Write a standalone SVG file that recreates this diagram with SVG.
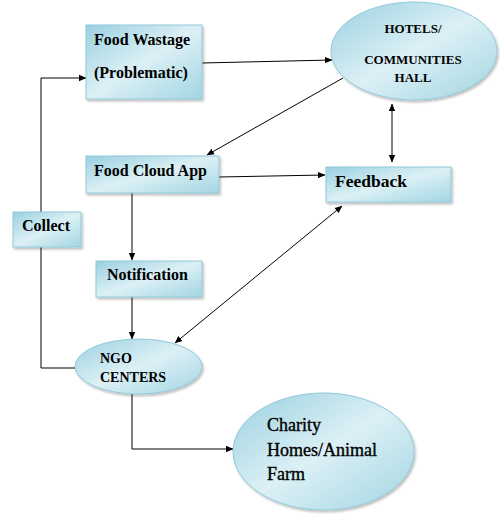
<svg xmlns="http://www.w3.org/2000/svg" width="500" height="518" viewBox="0 0 500 518">
<defs>
<linearGradient id="g" x1="0" y1="0" x2="1" y2="1">
<stop offset="0" stop-color="#9ad0e0"/>
<stop offset="0.5" stop-color="#dcf0f5"/>
<stop offset="1" stop-color="#a2d5e3"/>
</linearGradient>
<filter id="sh" x="-10%" y="-10%" width="130%" height="130%">
<feDropShadow dx="1.5" dy="2" stdDeviation="1" flood-color="#000" flood-opacity="0.25"/>
</filter>
<marker id="ah" markerWidth="8" markerHeight="8" refX="7" refY="4" orient="auto" markerUnits="userSpaceOnUse">
<path d="M0,0.8 L7.5,4 L0,7.2 Z" fill="#000"/>
</marker>
<marker id="as" markerWidth="8" markerHeight="8" refX="0.5" refY="4" orient="auto" markerUnits="userSpaceOnUse">
<path d="M7.5,0.8 L0,4 L7.5,7.2 Z" fill="#000"/>
</marker>
</defs>
<style>
.n{fill:url(#g);stroke:#8fc9d9;stroke-width:1;filter:url(#sh)}
.t{font-family:"Liberation Serif","Times New Roman",serif;font-weight:bold;fill:#000}
.r{font-family:"Liberation Serif","Times New Roman",serif;font-size:18px;fill:#000;stroke:#000;stroke-width:0.35}
.c{fill:none;stroke:#000;stroke-width:1}
</style>
<rect width="500" height="518" fill="#fff"/>
<g id="connectors">
<line class="c" x1="202" y1="63" x2="332" y2="60" marker-end="url(#ah)"/>
<line class="c" x1="343" y1="78" x2="207" y2="155" marker-end="url(#ah)"/>
<line class="c" x1="392" y1="104" x2="392" y2="162" marker-start="url(#as)" marker-end="url(#ah)"/>
<line class="c" x1="219" y1="177" x2="325" y2="175" marker-end="url(#ah)"/>
<line class="c" x1="132" y1="193" x2="132" y2="260" marker-end="url(#ah)"/>
<line class="c" x1="132" y1="297" x2="132" y2="339" marker-end="url(#ah)"/>
<line class="c" x1="342" y1="206" x2="175" y2="343" marker-start="url(#as)" marker-end="url(#ah)"/>
<polyline class="c" points="76,368 41,368 41,78 86,78" marker-end="url(#ah)"/>
<polyline class="c" points="132,394 132,449 233,449" marker-end="url(#ah)"/>
</g>
<g id="food-wastage">
<rect class="n" x="86" y="25" width="116" height="74"/>
<text class="t" x="94" y="45" font-size="16">Food Wastage</text>
<text class="t" x="94" y="78" font-size="16">(Problematic)</text>
</g>
<g id="hotels">
<ellipse class="n" cx="414" cy="51" rx="83" ry="49"/>
<text class="t" x="413" y="33" font-size="13" text-anchor="middle">HOTELS/</text>
<text class="t" x="413" y="64" font-size="13" text-anchor="middle">COMMUNITIES</text>
<text class="t" x="413" y="82" font-size="13" text-anchor="middle">HALL</text>
</g>
<g id="food-cloud-app">
<rect class="n" x="86" y="156" width="133" height="37"/>
<text class="t" x="94" y="176" font-size="16">Food Cloud App</text>
</g>
<g id="feedback">
<rect class="n" x="326" y="167" width="125" height="35"/>
<text class="t" x="335" y="187" font-size="17.5">Feedback</text>
</g>
<g id="collect">
<rect class="n" x="13" y="212" width="68" height="35"/>
<text class="t" x="22" y="231" font-size="16">Collect</text>
</g>
<g id="notification">
<rect class="n" x="96" y="261" width="106" height="36"/>
<text class="t" x="107" y="280" font-size="16">Notification</text>
</g>
<g id="ngo">
<ellipse class="n" cx="138.5" cy="366.5" rx="63.5" ry="27.5"/>
<text class="t" x="100" y="363" font-size="14">NGO</text>
<text class="t" x="100" y="382" font-size="14">CENTERS</text>
</g>
<g id="charity">
<ellipse class="n" cx="323.5" cy="451.5" rx="90.5" ry="58.5"/>
<text class="r" x="267" y="431">Charity</text>
<text class="r" x="267" y="456">Homes/Animal</text>
<text class="r" x="267" y="480">Farm</text>
</g>
</svg>
